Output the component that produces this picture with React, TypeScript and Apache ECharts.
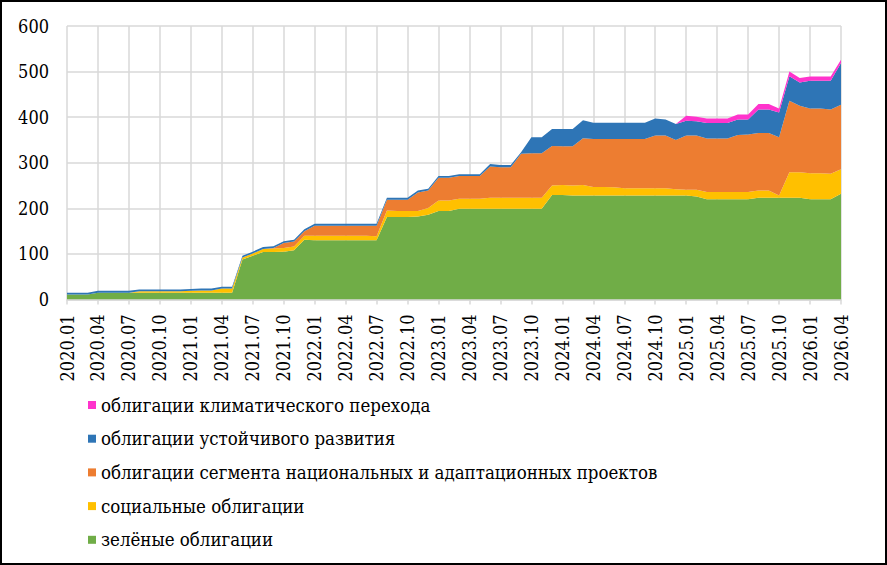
import React, { useEffect, useRef } from "react";
import * as echarts from "echarts";

const years = [2020, 2021, 2022, 2023, 2024, 2025, 2026];
const categories: string[] = [];
years.forEach((y) => {
  for (let m = 1; m <= 12; m++) {
    if (y === 2026 && m > 4) break;
    categories.push(`${y}.${m < 10 ? "0" + m : m}`);
  }
});

const seriesNames = {
  climate: "облигации климатического перехода",
  sustainable: "облигации устойчивого развития",
  national: "облигации сегмента национальных и адаптационных проектов",
  social: "социальные облигации",
  green: "зелёные облигации",
};

const green = [
  11, 11, 11, 15, 15, 15, 15, 15, 15, 15, 15, 15, 15, 15, 15, 15, 15,
  88, 96, 104, 104, 105, 108, 131,
  130, 130, 130, 130, 130, 130, 130,
  181, 181, 181, 182, 186, 194, 194,
  199, 199, 199, 199, 199, 199, 199, 199, 199,
  229, 229, 228,
  228, 228, 228, 228, 228, 228, 228, 228, 228, 228, 228, 226,
  220, 220, 220, 220, 220,
  223, 223, 223, 223, 223,
  220, 220, 220, 232,
];

const social = [
  0, 0, 0, 0, 0, 0, 0, 3, 3, 3, 3, 3, 4, 5, 5, 9, 9,
  4, 5, 7, 8, 8, 8, 9,
  10, 10, 10, 10, 10, 10, 9,
  14, 13, 13, 12, 15, 23, 23,
  22, 22, 22, 24, 24, 24, 24, 24, 24,
  21, 22, 22,
  23, 19, 19, 18, 16, 16, 16, 16, 16, 14, 13, 15,
  16, 16, 16, 16, 16,
  16, 16, 5, 56, 56,
  57, 57, 56, 54,
];

const national = [
  0, 0, 0, 0, 0, 0, 0, 0, 0, 0, 0, 0, 0, 0, 0, 0, 0, 0, 0, 0,
  1, 11, 11, 10,
  22, 22, 22, 22, 22, 22, 23,
  24, 25, 25, 41, 38,
  50, 50, 50, 50, 50,
  69, 67, 67, 97, 98, 98,
  87, 85, 86,
  103, 105, 105, 106, 108, 108, 108, 116, 116, 108,
  119, 119, 117, 117, 117, 125, 126, 126, 126, 128, 157, 146, 142, 142, 141, 141,
];

const sustainable = [
  4, 4, 4, 4, 4, 4, 4, 4, 4, 4, 4, 4, 4, 4, 4, 4, 4, 4, 4, 4,
  4, 4, 4, 4, 4, 4, 4, 4, 4, 4, 4, 4, 4, 4, 4, 4, 4, 4, 4, 4, 4,
  5, 5, 5, 3, 35, 35,
  37, 38, 38, 39,
  36, 36, 36, 36, 36, 36,
  37, 35, 35,
  32, 31, 34, 34, 34, 34, 33,
  52, 52, 54, 54, 51,
  61, 61, 63, 92,
];

const climate = [
  0, 0, 0, 0, 0, 0, 0, 0, 0, 0, 0, 0, 0, 0, 0, 0, 0, 0, 0, 0,
  0, 0, 0, 0, 0, 0, 0, 0, 0, 0, 0, 0, 0, 0, 0, 0, 0, 0, 0, 0,
  0, 0, 0, 0, 0, 0, 0, 0, 0, 0, 0, 0, 0, 0, 0, 0, 0, 0, 0, 0,
  11, 10, 10, 10, 10, 11, 11, 12, 12, 9, 10, 10, 9, 9, 9, 7,
];

const yTicks = [0, 100, 200, 300, 400, 500, 600];

const colors = {
  green: "#70AD47",
  social: "#FFC000",
  national: "#ED7D31",
  sustainable: "#2E75B6",
  climate: "#FF33CC",
};

const FONT = "DejaVu Serif Condensed";

function areaSeries(name: string, data: number[], color: string) {
  return {
    name,
    type: "line",
    stack: "total",
    data,
    showSymbol: false,
    symbol: "none",
    color,
    itemStyle: { color },
    lineStyle: { width: 0, color },
    areaStyle: { color, opacity: 1 },
  };
}

export default function App() {
  const ref = useRef<HTMLDivElement>(null);
  useEffect(() => {
    if (!ref.current) return;
    const chart = echarts.init(ref.current, undefined, { renderer: "svg" });
    chart.setOption({
      animation: false,
      backgroundColor: "#fff",
      grid: { left: 67, right: 46, top: 26, bottom: 265.5, containLabel: false },
      graphic: [
        {
          type: "rect",
          shape: { x: 1, y: 1, width: 885, height: 563 },
          style: { fill: "none", stroke: "#000", lineWidth: 2 },
          z: 100,
        },
      ],
      legend: {
        orient: "vertical",
        left: 88,
        top: 395,
        padding: 0,
        icon: "rect",
        itemWidth: 8,
        itemHeight: 8,
        itemGap: 13.7,
        textStyle: { fontFamily: FONT, fontSize: 18.5, color: "#000", lineHeight: 20 },
        data: [
          seriesNames.climate,
          seriesNames.sustainable,
          seriesNames.national,
          seriesNames.social,
          seriesNames.green,
        ],
      },
      xAxis: {
        type: "category",
        boundaryGap: false,
        data: categories,
        axisLine: { show: true, lineStyle: { color: "#d9d9d9", width: 1.5 } },
        axisTick: { show: true, interval: 2, length: 5, lineStyle: { color: "#d9d9d9", width: 1.5 } },
        splitLine: { show: true, interval: 2, lineStyle: { color: "#d9d9d9", width: 1.5 } },
        axisLabel: {
          interval: 2,
          rotate: 90,
          margin: 15,
          fontFamily: FONT,
          fontSize: 18,
          color: "#000",
        },
      },
      yAxis: {
        type: "value",
        min: yTicks[0],
        max: yTicks[yTicks.length - 1],
        interval: 100,
        axisLine: { show: false },
        axisTick: { show: false },
        splitLine: { show: true, lineStyle: { color: "#d9d9d9", width: 1.5 } },
        axisLabel: { margin: 18, fontFamily: FONT, fontSize: 18, color: "#000" },
      },
      series: [
        areaSeries(seriesNames.green, green, colors.green),
        areaSeries(seriesNames.social, social, colors.social),
        areaSeries(seriesNames.national, national, colors.national),
        areaSeries(seriesNames.sustainable, sustainable, colors.sustainable),
        areaSeries(seriesNames.climate, climate, colors.climate),
      ],
    });
    return () => chart.dispose();
  }, []);
  return (
    <div
      ref={ref}
      style={{ position: "absolute", left: 0, top: 0, width: 887, height: 565 }}
    />
  );
}
